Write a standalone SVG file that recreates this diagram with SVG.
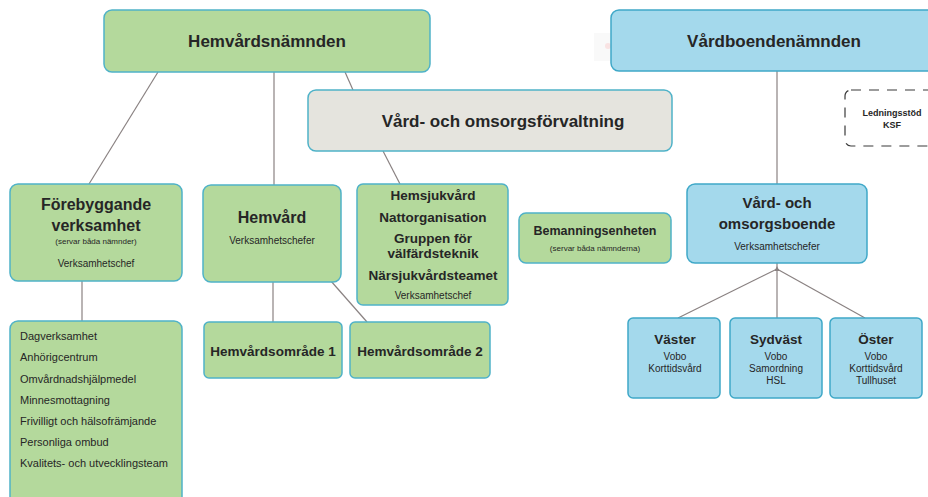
<svg xmlns="http://www.w3.org/2000/svg" width="928" height="497" viewBox="0 0 928 497">
<style>
text{font-family:"Liberation Sans",Arial,sans-serif;fill:#262626;text-anchor:middle}
.g{fill:#b4d99c;stroke:#4fb2c8;stroke-width:1.5}
.b{fill:#a4d9ec;stroke:#3fa8c8;stroke-width:1.5}
.gr{fill:#e5e4de;stroke:#4fb2c8;stroke-width:1.5}
.h{font-weight:bold;font-size:17px}
.m{font-weight:bold;font-size:13.5px}
.s{font-size:10px}
.xs{font-size:8px}
.li{font-size:11px;text-anchor:start}
.c{stroke:#8a8282;stroke-width:1.2;fill:none}
</style>
<rect width="928" height="497" fill="#fff"/>
<g id="connectors">
<line class="c" x1="158" y1="72" x2="89" y2="184"/>
<line class="c" x1="274" y1="72" x2="274" y2="185"/>
<line class="c" x1="345" y1="72" x2="353" y2="90"/>
<line class="c" x1="383" y1="151" x2="400" y2="184"/>
<line class="c" x1="273" y1="282" x2="273" y2="322"/>
<line class="c" x1="323" y1="272" x2="367" y2="322"/>
<line class="c" x1="82" y1="281" x2="82" y2="321"/>
<line class="c" x1="777" y1="71" x2="777" y2="184"/>
<line class="c" x1="777" y1="263" x2="777" y2="318"/>
<line class="c" x1="777" y1="269" x2="678" y2="318"/>
<line class="c" x1="777" y1="269" x2="865" y2="318"/>
<path d="M774.5 271 L777 266 L779.5 271 Z" fill="#8a8282"/>
</g>
<g id="hemvardsnamnden">
<rect class="g" x="104" y="10" width="326" height="62" rx="8"/>
<text class="h" x="267" y="47">Hemvårdsnämnden</text>
</g>
<g id="tooltip" opacity="0.35">
<rect x="594" y="33" width="120" height="28" fill="#eeeeee"/>
<circle cx="608" cy="46" r="3" fill="#f0b0b0"/>
</g>
<g id="vardboendenamnden">
<rect class="b" x="611" y="10" width="330" height="61" rx="8"/>
<text class="h" x="774" y="47">Vårdboendenämnden</text>
</g>
<g id="forvaltning">
<rect class="gr" x="308" y="90" width="364" height="61" rx="8"/>
<text class="h" x="503" y="127">Vård- och omsorgsförvaltning</text>
</g>
<g id="ledningsstod">
<rect x="845" y="90" width="100" height="56" rx="6" fill="none" stroke="#3a3a3a" stroke-width="1.2" stroke-dasharray="10 8"/>
<text x="892" y="116" style="font-size:9px;font-weight:bold">Ledningsstöd</text>
<text x="892" y="128" style="font-size:9px;font-weight:bold">KSF</text>
</g>
<g id="forebyggande">
<rect class="g" x="10" y="184" width="172" height="97" rx="8"/>
<text x="96" y="210" style="font-size:16px;font-weight:bold">Förebyggande</text>
<text x="96" y="231" style="font-size:16px;font-weight:bold">verksamhet</text>
<text class="xs" x="96" y="244">(servar båda nämnder)</text>
<text class="s" x="96" y="267">Verksamhetschef</text>
</g>
<g id="hemvard">
<rect class="g" x="203" y="185" width="138" height="97" rx="8"/>
<text x="272" y="223" style="font-size:16px;font-weight:bold">Hemvård</text>
<text class="s" x="272" y="244">Verksamhetschefer</text>
</g>
<g id="hemsjukvard">
<rect class="g" x="357" y="184" width="151" height="121" rx="6"/>
<text class="m" x="433" y="200">Hemsjukvård</text>
<text class="m" x="433" y="222">Nattorganisation</text>
<text class="m" x="433" y="243">Gruppen för</text>
<text class="m" x="433" y="258">välfärdsteknik</text>
<text class="m" x="433" y="280">Närsjukvårdsteamet</text>
<text class="s" x="433" y="299">Verksamhetschef</text>
</g>
<g id="bemanningsenheten">
<rect class="g" x="519" y="213" width="152" height="50" rx="7"/>
<text x="595" y="235" style="font-size:12.5px;font-weight:bold">Bemanningsenheten</text>
<text class="xs" x="595" y="251">(servar båda nämnderna)</text>
</g>
<g id="vardochomsorgsboende">
<rect class="b" x="687" y="184" width="180" height="79" rx="8"/>
<text x="777" y="208" style="font-size:15px;font-weight:bold">Vård- och</text>
<text x="777" y="229" style="font-size:15px;font-weight:bold">omsorgsboende</text>
<text class="s" x="777" y="250">Verksamhetschefer</text>
</g>
<g id="hemvardsomrade1">
<rect class="g" x="204" y="322" width="138" height="56" rx="5"/>
<text class="m" x="273" y="356">Hemvårdsområde 1</text>
</g>
<g id="hemvardsomrade2">
<rect class="g" x="350" y="322" width="140" height="56" rx="5"/>
<text class="m" x="420" y="356">Hemvårdsområde 2</text>
</g>
<g id="lista">
<rect class="g" x="10" y="321" width="172" height="190" rx="8"/>
<text class="li" x="20" y="340">Dagverksamhet</text>
<text class="li" x="20" y="361">Anhörigcentrum</text>
<text class="li" x="20" y="383">Omvårdnadshjälpmedel</text>
<text class="li" x="20" y="404">Minnesmottagning</text>
<text class="li" x="20" y="425">Frivilligt och hälsofrämjande</text>
<text class="li" x="20" y="446">Personliga ombud</text>
<text class="li" x="20" y="467">Kvalitets- och utvecklingsteam</text>
</g>
<g id="vaster">
<rect class="b" x="628" y="318" width="92" height="80" rx="5"/>
<text class="m" x="675" y="344">Väster</text>
<text class="s" x="675" y="360">Vobo</text>
<text class="s" x="675" y="372">Korttidsvård</text>
</g>
<g id="sydvast">
<rect class="b" x="730" y="318" width="92" height="80" rx="5"/>
<text class="m" x="776" y="344">Sydväst</text>
<text class="s" x="776" y="360">Vobo</text>
<text class="s" x="776" y="372">Samordning</text>
<text class="s" x="776" y="384">HSL</text>
</g>
<g id="oster">
<rect class="b" x="830" y="318" width="92" height="80" rx="5"/>
<text class="m" x="876" y="344">Öster</text>
<text class="s" x="876" y="360">Vobo</text>
<text class="s" x="876" y="372">Korttidsvård</text>
<text class="s" x="876" y="384">Tullhuset</text>
</g>
</svg>
